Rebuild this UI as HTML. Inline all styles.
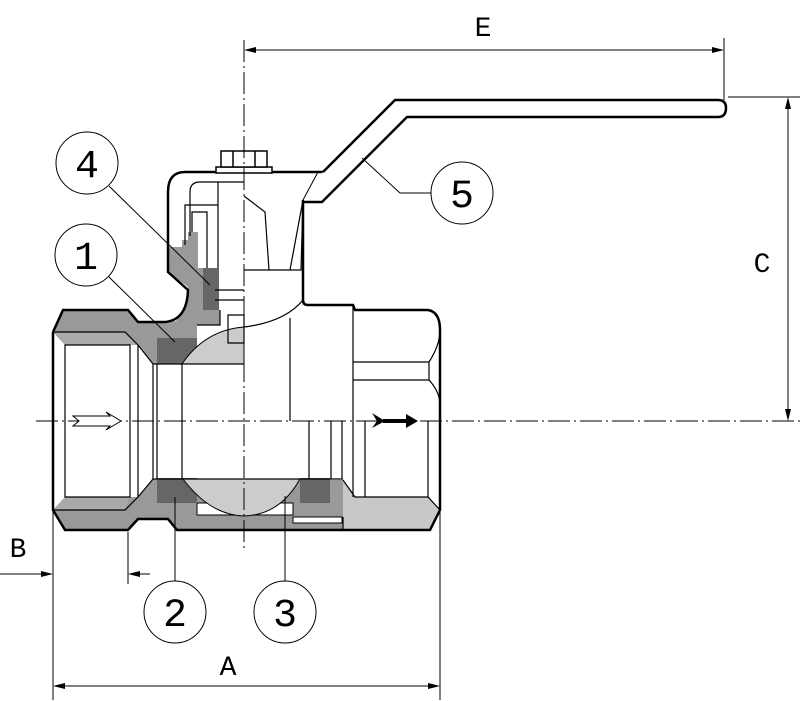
<!DOCTYPE html>
<html><head><style>html,body{margin:0;padding:0;background:#fff}svg{display:block}text{font-family:"Liberation Mono","DejaVu Sans Mono",monospace}</style></head><body>
<svg width="800" height="701" viewBox="0 0 800 701" xmlns="http://www.w3.org/2000/svg">
<rect width="800" height="701" fill="#fff"/>
<!-- top gray body section -->
<polygon points="53,332 63,310 128,310 138,322 165,322 176,321 187,305 188,287 168,272 168,247 182,247 182,240 188,240 188,232 198,232 198,268 203,268 203,310 220,310 220,325 197,325 197,338 157,338 157,364 153,364 138,345 130,345 65,345 53,332" fill="#999"/>
<polygon points="53,332 125,332 138,345 65,345" fill="#aaa"/>
<!-- bottom gray -->
<polygon points="53,510 65,530 128,530 138,519 168,519 177,530 343,530 343,480 153,479 138,497 130,497 65,497 53,510" fill="#999"/>
<polygon points="53,510 65,497 130,497 125,510" fill="#aaa"/>
<polygon points="343,480 355,497 428,497 440,510 430,530 343,530" fill="#c8c8c8"/>
<rect x="197" y="503" width="96" height="12" fill="#fff" stroke="#000" stroke-width="1"/>
<rect x="293" y="517" width="49" height="6" fill="#fff" stroke="#000" stroke-width="1"/>
<!-- dark seats -->
<rect x="157" y="338" width="40" height="26" fill="#666"/>
<rect x="157" y="478" width="40" height="25" fill="#666"/>
<rect x="300" y="478" width="30" height="25" fill="#666"/>
<rect x="203" y="268" width="16" height="42" fill="#666"/>
<!-- ball light -->
<path d="M182,364 Q205,330 244,327 L244,364 Z" fill="#ccc" stroke="#000" stroke-width="1"/>
<path d="M183,479 Q210,515 244,516 Q280,515 300,479 Z" fill="#ccc" stroke="#000" stroke-width="1"/>
<!-- body outline -->
<path d="M53,332 L63,310 L128,310 L138,322 L165,322 Q187,320 188,290 L168,272 L168,192 Q168,172 185,172 L323,172" fill="none" stroke="#000" stroke-width="2.5"/>
<path d="M303,200 L303,300 Q303,305 308,305 L353,305 L355,310 L428,310 Q440,312 440,330 L440,510 L430,530 L177,530 L168,519 L138,519 L128,530 L65,530 L53,510 L53,332" fill="none" stroke="#000" stroke-width="2.5"/>
<!-- inner lines -->
<g stroke="#000" stroke-width="1.2" fill="none">
<path d="M53,332 L125,332 L138,345 L153,364 L153,479 L138,497 L125,510 L53,510"/>
<path d="M65,345 L130,345 L130,497 L65,497 Z"/>
<line x1="138" y1="345" x2="138" y2="497"/>
<path d="M153,364 L244,364 M153,479 L343,479"/>
<line x1="157" y1="364" x2="157" y2="479"/>
<line x1="182" y1="364" x2="182" y2="479"/>
<path d="M197,325 L220,325 L220,310"/>
<path d="M190,236 L190,192 Q190,182 200,182 L244,182"/>
<path d="M185,245 L185,205 L218,205 M192,232 L192,212 L207,212 L207,268"/>
<path d="M218,182 L218,268 M215,300 L244,300 M215,290 L244,290 M228,315 L244,315 L244,343 L228,343 Z"/>
<path d="M244,196 L265,212 L269,270 L244,270 M269,270 L301,270 L303,200 L290,270"/>
<path d="M244,327 Q285,322 303,300"/>
<line x1="290" y1="318" x2="290" y2="421"/>
<line x1="353" y1="305" x2="353" y2="497"/>
<path d="M353,362 L429,362 L429,380 L353,380"/>
<path d="M429,362 Q440,345 440,330 M429,380 Q440,392 440,405"/>
<line x1="365" y1="421" x2="365" y2="497"/>
<line x1="428" y1="421" x2="428" y2="497"/>
<line x1="309" y1="421" x2="309" y2="479"/>
<line x1="331" y1="421" x2="331" y2="479"/>
<line x1="342" y1="421" x2="342" y2="479"/>
<path d="M343,480 L355,497 L428,497 L440,510"/>
<line x1="343" y1="517" x2="343" y2="530"/>
</g>
<!-- stem nut -->
<g stroke="#000" stroke-width="1.5" fill="#fff">
<rect x="216" y="167" width="56" height="6"/>
<rect x="221" y="151" width="46" height="16"/>
<line x1="233" y1="151" x2="233" y2="167"/>
<line x1="255" y1="151" x2="255" y2="167"/>
</g>
<!-- handle -->
<path d="M323,172 L395,100 L718,100 Q726,100 726,108 Q726,117 718,117 L407,117 L322,202 L303,202" fill="#fff" stroke="#000" stroke-width="2.5"/>
<line x1="318" y1="172" x2="303" y2="200" stroke="#000" stroke-width="1"/>
<!-- center lines -->
<g stroke="#000" stroke-width="1" stroke-dasharray="22,4,2,4">
<line x1="36" y1="421" x2="800" y2="421"/>
<line x1="244" y1="40" x2="244" y2="550"/>
</g>
<!-- flow arrows -->
<path d="M73,416 L110,416 L106,412 L121,421 L106,430 L110,426 L73,426 L79,421 Z" fill="#fff" stroke="#000" stroke-width="1"/>
<path d="M372,413 L385,421 L372,428 L377,421 Z M383,419 L406,419 L406,414 L418,421 L406,428 L406,423 L383,423 Z" fill="#000"/>
<!-- dimensions -->
<g stroke="#000" stroke-width="1" fill="none">
<line x1="724" y1="38" x2="724" y2="100"/>
<line x1="248" y1="50" x2="720" y2="50"/>
<line x1="728" y1="97" x2="800" y2="97"/>
<line x1="788" y1="101" x2="788" y2="417"/>
<line x1="53" y1="512" x2="53" y2="700"/>
<line x1="440" y1="512" x2="440" y2="700"/>
<line x1="57" y1="686" x2="436" y2="686"/>
<line x1="0" y1="574" x2="50" y2="574"/>
<line x1="131" y1="574" x2="150" y2="574"/>
<line x1="128" y1="532" x2="128" y2="584"/>
<line x1="109" y1="186" x2="210" y2="285"/>
<line x1="108" y1="276" x2="175" y2="342"/>
<polyline points="362,158 400,193 432,193"/>
<line x1="175" y1="497" x2="175" y2="582"/>
<line x1="285" y1="496" x2="285" y2="582"/>
</g>
<g fill="#000">
<polygon points="244,50 256,47 256,53"/>
<polygon points="724,50 712,47 712,53"/>
<polygon points="788,97 785,109 791,109"/>
<polygon points="788,421 785,409 791,409"/>
<polygon points="53,686 65,683 65,689"/>
<polygon points="440,686 428,683 428,689"/>
<polygon points="53,574 41,571 41,577"/>
<polygon points="128,574 140,571 140,577"/>
</g>
<!-- balloons -->
<g stroke="#000" stroke-width="1" fill="#fff">
<circle cx="87" cy="163" r="31"/>
<circle cx="86" cy="255" r="31"/>
<circle cx="462" cy="193" r="31"/>
<circle cx="175" cy="612" r="31"/>
<circle cx="285" cy="612" r="31"/>
</g>
<g font-size="40" text-anchor="middle" fill="#000">
<text x="87" y="177">4</text>
<text x="86" y="269">1</text>
<text x="462" y="207">5</text>
<text x="175" y="626">2</text>
<text x="285" y="626">3</text>
</g>
<g font-size="28" text-anchor="middle" fill="#000">
<text x="483" y="36">E</text>
<text x="762" y="272">C</text>
<text x="228" y="675">A</text>
<text x="18" y="557">B</text>
</g>
</svg>
</body></html>
